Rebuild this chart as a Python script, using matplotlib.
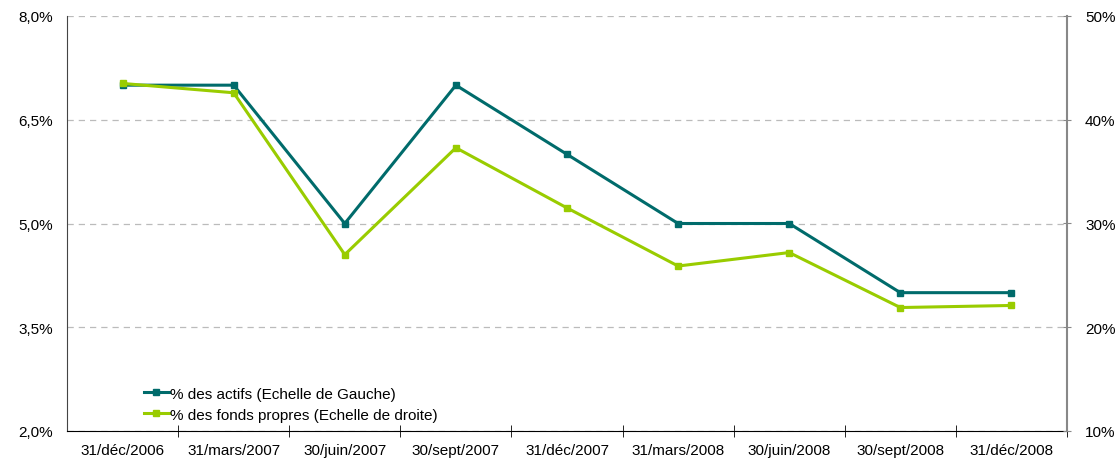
import matplotlib
matplotlib.use("Agg")
import matplotlib.pyplot as plt
from matplotlib.ticker import FixedLocator, FuncFormatter

plt.rcParams['font.family'] = ['Liberation Sans', 'DejaVu Sans']

categories = ["31/déc/2006", "31/mars/2007", "30/juin/2007", "30/sept/2007",
              "31/déc/2007", "31/mars/2008", "30/juin/2008", "30/sept/2008",
              "31/déc/2008"]
actifs = [7.0, 7.0, 5.0, 7.0, 6.0, 5.0, 5.0, 4.0, 4.0]
fonds_propres = [43.5, 42.6, 27.0, 37.3, 31.5, 25.9, 27.2, 21.9, 22.1]
left_ticks = [2.0, 3.5, 5.0, 6.5, 8.0]
right_ticks = [10, 20, 30, 40, 50]
label_actifs = "% des actifs (Echelle de Gauche)"
label_fonds = "% des fonds propres (Echelle de droite)"

teal = "#006B6B"
lime = "#99CC00"

fig = plt.figure(figsize=(11.2, 4.64), dpi=100)
ax = fig.add_axes([67/1120, 1-432/464, (1067-67)/1120, (432-17)/464])
ax2 = ax.twinx()

x = list(range(len(categories)))
l1, = ax.plot(x, actifs, color=teal, lw=2.2, marker='s', ms=5, zorder=3,
              label=label_actifs)
l2, = ax2.plot(x, fonds_propres, color=lime, lw=2.2, marker='s', ms=5, zorder=3,
               label=label_fonds)

ax.set_xlim(-0.5, len(categories)-0.5)
ax.set_ylim(2.0, 8.0)
ax2.set_ylim(10, 50)

ax.yaxis.set_major_locator(FixedLocator(left_ticks))
ax.yaxis.set_major_formatter(FuncFormatter(lambda v, p: f"{v:.1f}%".replace('.', ',')))
ax2.yaxis.set_major_locator(FixedLocator(right_ticks))
ax2.yaxis.set_major_formatter(FuncFormatter(lambda v, p: f"{v:.0f}%"))

ax.set_xticks(x)
ax.set_xticklabels(categories)
ax.set_xticks([i + 0.5 for i in range(len(categories)-1)] + [len(categories)-0.5], minor=True)
ax.tick_params(axis='x', which='major', length=0, pad=9, labelsize=11, colors='black')
ax.tick_params(axis='x', which='minor', length=8, direction='inout', color='black')
ax.tick_params(axis='y', length=0, pad=10, labelsize=11)
ax2.tick_params(axis='y', length=6, direction='inout', color='#888888', pad=10, labelsize=11)

ax.grid(axis='y', linestyle=(0, (5, 4)), color='#BBBBBB', lw=0.9)
ax.set_axisbelow(True)

for a in (ax, ax2):
    a.spines['top'].set_visible(False)
ax.spines['right'].set_visible(False)
ax2.spines['left'].set_visible(False)
ax2.spines['bottom'].set_visible(False)
ax.spines['left'].set_color('#444444')
ax.spines['bottom'].set_color('black')
ax2.spines['right'].set_color('#888888')
ax2.spines['right'].set_linewidth(1.5)

leg = ax.legend(handles=[l1, l2], loc='lower left', bbox_to_anchor=(0.071, 0.008),
                frameon=False, fontsize=11, handlelength=1.6, handletextpad=0.1,
                labelspacing=0.45, borderaxespad=0)

fig.savefig("out.png", dpi=100)
